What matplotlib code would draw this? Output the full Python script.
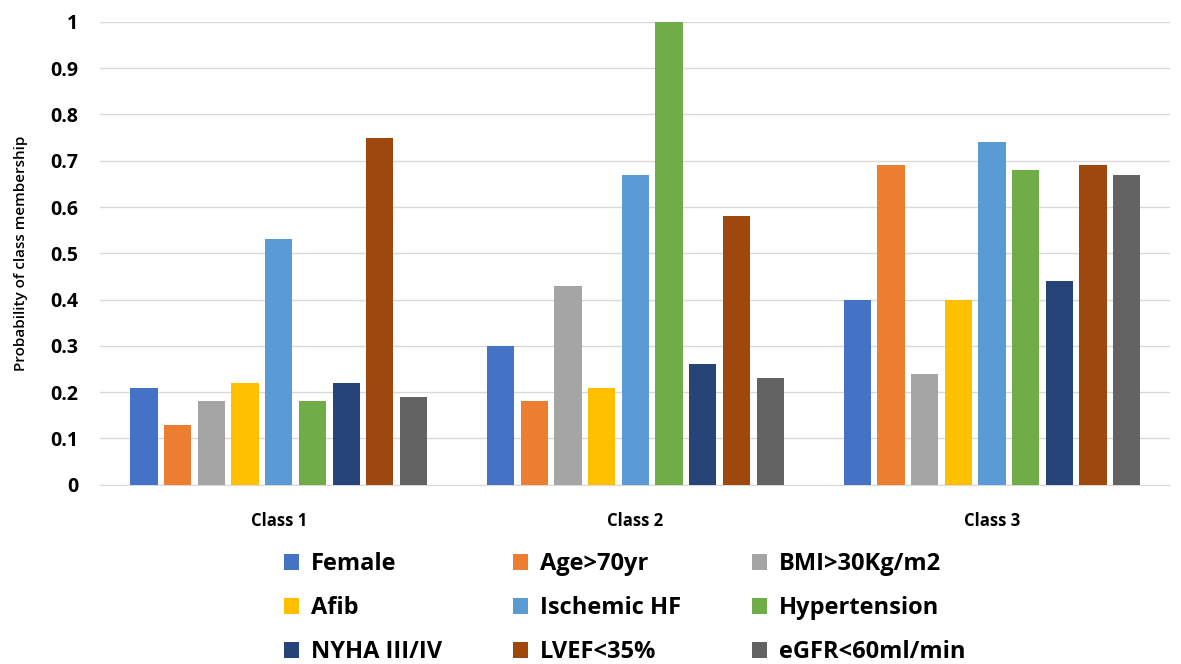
import matplotlib.pyplot as plt
import numpy as np

plt.rcParams['font.family'] = ['Open Sans', 'DejaVu Sans']

classes = ['Class 1', 'Class 2', 'Class 3']
series = ['Female', 'Age>70yr', 'BMI>30Kg/m2', 'Afib', 'Ischemic HF',
          'Hypertension', 'NYHA III/IV', 'LVEF<35%', 'eGFR<60ml/min']
colors = ['#4472C4', '#ED7D31', '#A5A5A5', '#FFC000', '#5B9BD5',
          '#70AD47', '#264478', '#9E480E', '#636363']

female = [0.21, 0.30, 0.40]
age = [0.13, 0.18, 0.69]
bmi = [0.18, 0.43, 0.24]
afib = [0.22, 0.21, 0.40]
ischemic = [0.53, 0.67, 0.74]
hypertension = [0.18, 1.00, 0.68]
nyha = [0.22, 0.26, 0.44]
lvef = [0.75, 0.58, 0.69]
egfr = [0.19, 0.23, 0.67]
values = [female, age, bmi, afib, ischemic, hypertension, nyha, lvef, egfr]

fig = plt.figure(figsize=(11.81, 6.64), dpi=100)
ax = fig.add_axes([0.085, 0.27, 0.906, 0.697])

x = np.arange(len(classes))
slot = 0.0944
width = 0.076
for i, (name, vals, c) in enumerate(zip(series, values, colors)):
    ax.bar(x + (i - 4) * slot, vals, width, color=c, label=name, zorder=3)

ax.set_xlim(-0.5, 2.5)
ax.set_ylim(0, 1)
ax.set_yticks(np.arange(0, 1.01, 0.1))
ax.set_yticklabels(['0'] + ['%.1f' % v for v in np.arange(0.1, 0.95, 0.1)] + ['1'])
ax.set_xticks(x)
ax.set_xticklabels(classes, fontsize=12, fontweight='bold')
for t in ax.get_yticklabels():
    t.set_fontsize(14)
    t.set_fontweight('bold')
ax.tick_params(axis='both', length=0)
ax.tick_params(axis='x', pad=20)
ax.tick_params(axis='y', pad=16)
ax.grid(axis='y', color='#D9D9D9', linewidth=1, zorder=0)
for s in ['top', 'right', 'left']:
    ax.spines[s].set_visible(False)
ax.spines['bottom'].set_color('#D9D9D9')
ax.set_ylabel('Probability of class membership', fontsize=11,
              fontweight='semibold', labelpad=16)

# legend is filled row by row in the original
handles, labels = ax.get_legend_handles_labels()
order = [0, 3, 6, 1, 4, 7, 2, 5, 8]
ax.legend([handles[k] for k in order], [labels[k] for k in order],
          loc='upper center', bbox_to_anchor=(0.49, -0.1), ncol=3, frameon=False,
          prop={'size': 17, 'weight': 'bold'}, handlelength=0.65, handleheight=0.65,
          handletextpad=0.5, columnspacing=3.0, labelspacing=0.84)

fig.savefig('out.png')
